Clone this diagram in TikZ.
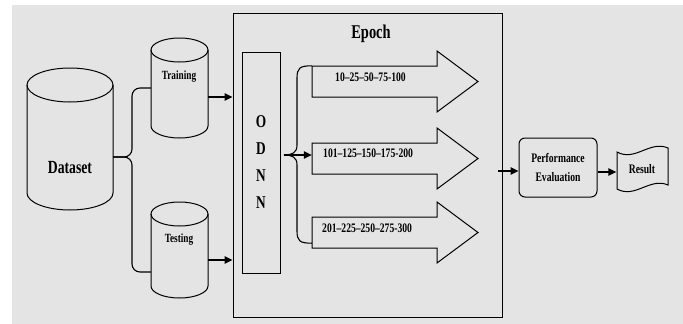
\documentclass[tikz,border=0pt]{standalone}
\usepackage{fontspec}
\setmainfont{Liberation Serif}[FakeStretch=0.74]
\usetikzlibrary{arrows.meta}
\definecolor{panel}{HTML}{E4E4E4}

\newcommand\fsz[1]{\fontsize{#1}{#1}\selectfont}

% database cylinder: name, centre x, top-ellipse y, bottom-ellipse y, x radius, y radius
\newcommand\dbcyl[6]{%
  \filldraw[outline, fill=panel] (#2-#5,#3) -- (#2-#5,#4)
    arc[start angle=180, end angle=0, x radius=#5, y radius=#6] -- (#2+#5,#3);
  \draw[outline] (#2,#3) ellipse[x radius=#5, y radius=#6];
  \node[inner sep=0pt, minimum width=2*#5, minimum height=#4-#3] (#1) at (#2,{(#3+#4)/2}) {};
}

% wide block arrow: name, centre y
\newcommand\blockarrow[2]{%
  \filldraw[outline, fill=panel] (312,#2-15.5) -- (437,#2-15.5) -- (437,#2-30.5) -- (478,#2)
    -- (437,#2+30.5) -- (437,#2+15.5) -- (312,#2+15.5) -- cycle;
  \node[inner sep=0pt, minimum width=125, minimum height=31] (#1) at (374.5,#2) {};
}

\tikzset{
  outline/.style={draw=black, line width=1pt},
  link/.style={draw=black, line width=1.1pt},
  tip/.style={-{Triangle[length=8pt,width=7.5pt]}},
  lbl/.style={font=\bfseries, inner sep=0pt, text=black},
  rangelbl/.style={lbl, font=\bfseries\fsz{13}, anchor=west},
}

\begin{document}
\begin{tikzpicture}[x=1pt, y=-1pt]
\useasboundingbox (0,0) rectangle (683,324);
\fill[panel] (12,5) rectangle (683,324);

% data stores
\dbcyl{dataset}{70}{85}{193}{43}{17}
\dbcyl{training}{179.5}{50}{126}{28.5}{12}
\dbcyl{testing}{179.5}{214}{286}{28.5}{12}
\node[lbl, font=\bfseries\fsz{18.5}] (datasetlbl) at (70,168) {Dataset};
\node[lbl, font=\bfseries\fsz{12.5}] (traininglbl) at (179,77) {Training};
\node[lbl, font=\bfseries\fsz{12.5}] (testinglbl) at (179,240) {Testing};

% split of the dataset
\coordinate (dsout) at ([yshift=-18pt]dataset.east);
\coordinate (tsin) at ([yshift=-22pt]testing.west);
\draw[link, rounded corners=8pt] (dsout) -| (132,120) |- (training.west);
\draw[link, rounded corners=8pt] (dsout) -| (132,200) |- (tsin);

% epoch frame
\node[outline, fill=panel, minimum width=269, minimum height=304, inner sep=0pt] (epoch) at (367.5,165) {};
\node[lbl, font=\bfseries\fsz{19.5}] (epochlbl) at (371,34) {Epoch};

% inputs into the network
\coordinate (trout) at ([yshift=-9pt]training.east);
\coordinate (tsout) at ([yshift=-10pt]testing.east);
\draw[link, tip] (trout) -- (epoch.west |- trout);
\draw[link, tip] (tsout) -- (epoch.west |- tsout);

% network block
\node[outline, fill=panel, minimum width=38, minimum height=221, inner sep=0pt,
      font=\bfseries\fsz{18}, align=center, execute at begin node={\baselineskip=27pt}]
      (odnn) at (261,162.5) {O\\D\\N\\N};

% epoch ranges
\blockarrow{a1}{81.5}
\blockarrow{a2}{158.5}
\blockarrow{a3}{232.5}
\node[rangelbl] (r1) at (335,77) {10–25–50–75-100};
\node[rangelbl] (r2) at (323,153) {101–125–150–175-200};
\node[rangelbl] (r3) at (322,228) {201–225–250–275-300};

% brace fanning out to the ranges
\coordinate (bracetip) at (284,155);
\coordinate (braceend) at ([yshift=5pt]a3.south west);
\draw[link] (a1.north west) .. controls +(-12,0) and +(0,-10) .. (297,78) -- (297,145)
  .. controls +(0,8) and +(8,0) .. (bracetip)
  .. controls +(8,0) and +(0,-8) .. (297,165) -- (297,231)
  .. controls +(0,10) and +(-12,0) .. (braceend);
\draw[link, tip] (bracetip) -- (a2.west |- bracetip);

% evaluation
\node[outline, fill=panel, rounded corners=6pt, minimum width=78, minimum height=59, inner sep=0pt,
      font=\bfseries\fsz{13}, align=center, execute at begin node={\baselineskip=19pt}]
      (pe) at (558,167.5) {Performance\\Evaluation};
\coordinate (pein) at (498,171);
\draw[link, tip] (pein) -- (pe.west |- pein);

% result document
\filldraw[outline, fill=panel] (617,152) .. controls (635,162) and (650,140) .. (668,148)
  -- (668,185) .. controls (650,177) and (635,199) .. (617,189) -- cycle;
\node[lbl, font=\bfseries\fsz{13}, minimum width=51, minimum height=38] (result) at (642,169) {Result};
\coordinate (peout) at ([yshift=-4.5pt]pe.east);
\draw[link, tip] (peout) -- (result.west |- peout);
\end{tikzpicture}
\end{document}
